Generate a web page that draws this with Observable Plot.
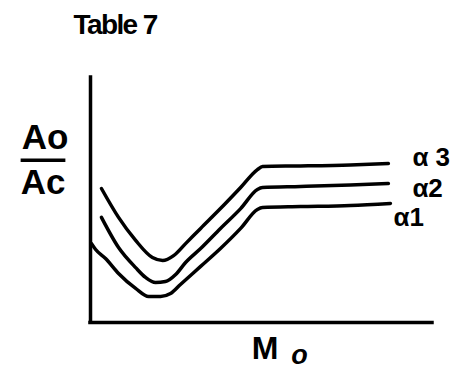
<!DOCTYPE html>
<html><head><meta charset="utf-8">
<script src="https://cdn.jsdelivr.net/npm/d3@7"></script>
<script src="https://cdn.jsdelivr.net/npm/@observablehq/plot@0.6"></script>
<style>
body{margin:0;background:#fff}
</style></head><body><div id="chart"></div>
<script>
// ---- text ----
const titleText = "Table 7";
const yLabelTop = "Ao";
const yLabelBottom = "Ac";
const xLabelMain = "M";
const xLabelSub = "o";
const seriesLabels = ["α1", "α2", "α 3"];

// ---- series values (abstract units, x: Mo, y: Ao/Ac) ----
const alpha1X = [0.3, 1.5, 4.4, 8.2, 13.2, 17.0, 20.5, 23.4, 26.3, 32.2, 38.0, 43.9, 48.8, 50.3, 61.4, 76.0, 87.7];
const alpha1Y = [32.2, 29.8, 26.1, 20.0, 13.9, 10.6, 10.6, 11.8, 15.5, 22.9, 30.2, 38.4, 46.1, 46.9, 47.3, 47.8, 48.6];
const alpha2X = [3.2, 8.2, 13.2, 16.1, 19.0, 21.9, 24.9, 27.8, 32.2, 38.0, 43.9, 48.8, 50.3, 61.4, 76.0, 87.1];
const alpha2Y = [42.9, 30.6, 22.4, 18.4, 16.3, 16.7, 19.6, 24.5, 30.2, 38.4, 46.5, 54.3, 55.1, 55.5, 56.1, 56.7];
const alpha3X = [3.2, 8.2, 13.2, 18.1, 21.1, 24.3, 27.8, 32.2, 38.0, 43.9, 48.8, 50.3, 61.4, 76.0, 87.1];
const alpha3Y = [54.7, 42.9, 33.5, 26.5, 25.3, 27.3, 32.2, 38.4, 46.5, 55.1, 62.4, 63.7, 63.9, 64.3, 64.9];

const seriesX = [alpha1X, alpha2X, alpha3X];
const seriesY = [alpha1Y, alpha2Y, alpha3Y];

// ---- layout / style (not data) ----
const FONT = "Liberation Sans, Arial, sans-serif";
const labelOffsets = [{dx: 3, dy: 23}, {dx: 24, dy: 13}, {dx: 24, dy: 3}];

const rows = seriesLabels.flatMap((s, i) =>
  seriesX[i].map((x, j) => ({series: s, x, y: seriesY[i][j]})));

const marks = [
  Plot.ruleX([0], {stroke: "#000", strokeWidth: 3.5, strokeLinecap: "square"}),
  Plot.ruleY([0], {stroke: "#000", strokeWidth: 3.5, strokeLinecap: "square"}),
  Plot.line(rows, {x: "x", y: "y", z: "series", stroke: "#000", strokeWidth: 3.5,
    strokeLinecap: "round", strokeLinejoin: "round", curve: "monotone-x"}),
  ...seriesLabels.map((s, i) => Plot.text(rows.filter(d => d.series === s), Plot.selectLast({
    x: "x", y: "y", text: "series", textAnchor: "start", lineAnchor: "bottom",
    dx: labelOffsets[i].dx, dy: labelOffsets[i].dy, fontSize: 26, fontWeight: "bold",
    fontFamily: FONT, fill: "#000"}))),
  Plot.text([titleText], {frameAnchor: "top-left", textAnchor: "start", lineAnchor: "bottom",
    dx: -17, dy: -44, fontSize: 28, fontWeight: "bold", fontFamily: FONT, fill: "#000"}),
  Plot.text([yLabelTop], {frameAnchor: "top-left", textAnchor: "middle", lineAnchor: "bottom",
    dx: -45.5, dy: 71, fontSize: 35, fontWeight: "bold", fontFamily: FONT, fill: "#000"}),
  Plot.text([yLabelBottom], {frameAnchor: "top-left", textAnchor: "middle", lineAnchor: "bottom",
    dx: -47.5, dy: 116, fontSize: 35, fontWeight: "bold", fontFamily: FONT, fill: "#000"}),
  Plot.text([xLabelMain], {frameAnchor: "bottom", textAnchor: "middle", lineAnchor: "bottom",
    dx: 3.5, dy: 36, fontSize: 32, fontWeight: "bold", fontFamily: FONT, fill: "#000"}),
  Plot.text([xLabelSub], {frameAnchor: "bottom", textAnchor: "middle", lineAnchor: "bottom",
    dx: 38, dy: 41, fontSize: 27, fontWeight: "bold", fontStyle: "italic", fontFamily: FONT, fill: "#000"})
];

const chart = Plot.plot({
  width: 466, height: 381,
  marginLeft: 90, marginRight: 34, marginTop: 77, marginBottom: 59,
  x: {domain: [0, 100], axis: null},
  y: {domain: [0, 100], axis: null},
  style: {fontFamily: FONT, background: "#fff"},
  marks
});
document.getElementById("chart").appendChild(chart);

// typographic touches: condensed title, fraction bar over the denominator
d3.select(chart).selectAll("text").each(function() {
  const t = this.textContent;
  if (t === titleText) d3.select(this).style("letter-spacing", "-1.6px");
  if (t === yLabelBottom) d3.select(this).style("text-decoration", "overline")
    .style("text-decoration-thickness", "3px");
});
</script></body></html>
